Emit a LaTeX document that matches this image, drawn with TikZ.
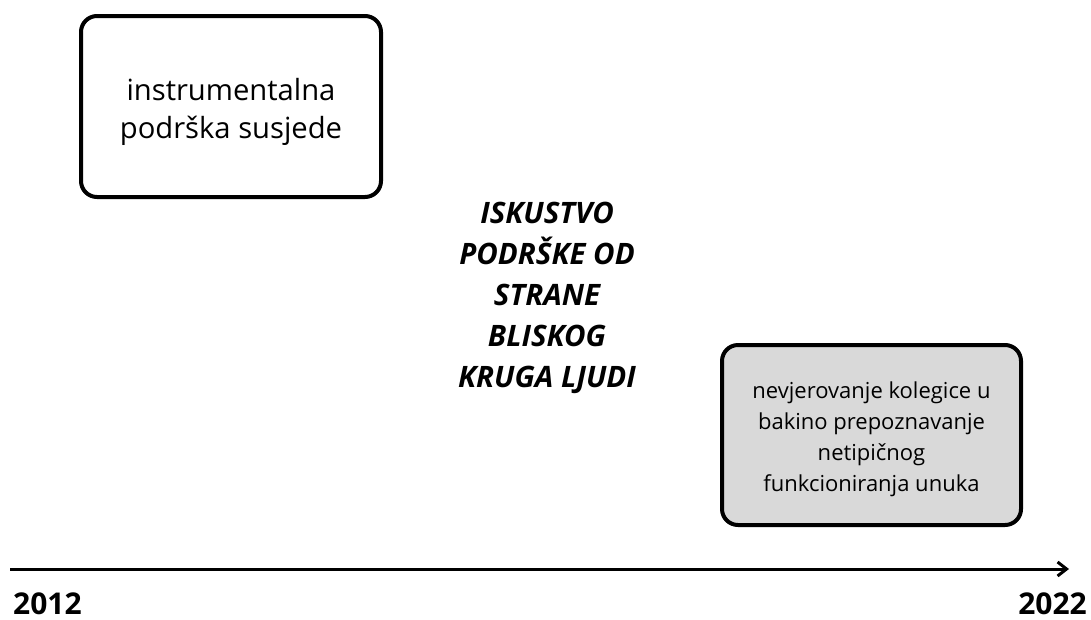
\documentclass[tikz,border=0pt]{standalone}
\usepackage{fontspec}
\setmainfont{Open Sans}
\usetikzlibrary{arrows.meta}
\definecolor{boxgray}{HTML}{D9D9D9}
\tikzset{
  eventbox/.style={draw=black, line width=4pt, rounded corners=16pt, align=center, inner sep=0pt},
  yearlabel/.style={font=\fontsize{30}{36}\selectfont\bfseries, inner sep=0pt},
}
\begin{document}
\begin{tikzpicture}[x=1pt,y=-1pt]
\useasboundingbox (0,0) rectangle (1091,619);
\node[eventbox, minimum width=300pt, minimum height=181pt,
      font=\fontsize{29.2}{38}\selectfont] (b1) at (231,106.5)
  {\raisebox{-5pt}[\height][\depth]{\parbox{280pt}{\centering instrumentalna\\podrška susjede}}};
\node[eventbox, fill=boxgray, minimum width=299pt, minimum height=180pt,
      font=\fontsize{22}{31}\selectfont] (b2) at (871.5,435)
  {\raisebox{-4pt}[\height][\depth]{\parbox{280pt}{\centering nevjerovanje kolegice u\\bakino prepoznavanje\\netipičnog\\funkcioniranja unuka}}};
\node[align=center, inner sep=0pt, font=\fontsize{29.5}{41}\selectfont\bfseries\itshape] (title) at (547,298)
  {ISKUSTVO\\PODRŠKE OD\\STRANE\\BLISKOG\\KRUGA LJUDI};
\coordinate (axs) at (10,569);
\coordinate (axe) at (1069,569);
\draw[line width=3pt, -{Straight Barb[length=9pt,width=14pt,line width=3pt]}] (axs) -- (axe);
\node[yearlabel, anchor=base west] (y1) at (13,614) {2012};
\node[yearlabel, anchor=base east] (y2) at (1087,614) {2022};
\end{tikzpicture}
\end{document}
